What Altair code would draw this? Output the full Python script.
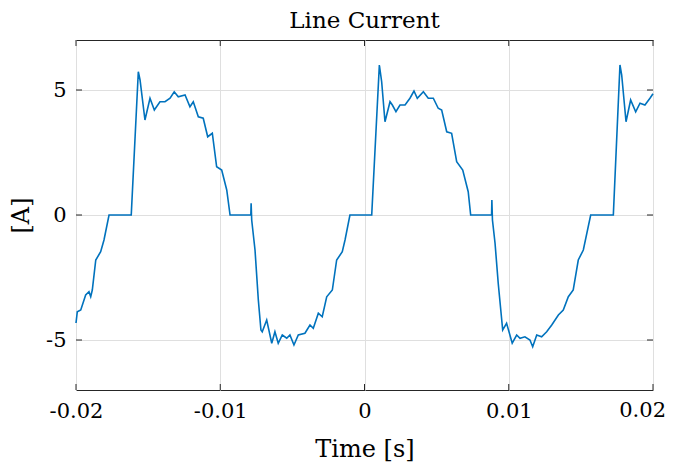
import altair as alt
import pandas as pd

# Time (ms) and line current (A)
time_ms = [
    -20.00, -19.91, -19.67, -19.33, -19.10, -18.98, -18.87, -18.63, -18.29, -18.06, -17.71, -16.17,
    -15.68, -15.56, -15.22, -14.87, -14.57, -14.18, -13.83, -13.48, -13.19, -12.91, -12.44, -12.10,
    -11.87, -11.52, -11.18, -10.87, -10.55, -10.25, -9.90, -9.55, -9.32, -7.88, -7.86, -7.82,
    -7.59, -7.36, -7.18, -7.09, -6.78, -6.43, -6.21, -5.98, -5.70, -5.39, -5.17, -4.89, -4.59,
    -4.13, -3.78, -3.55, -3.20, -2.93, -2.62, -2.23, -1.93, -1.54, -1.35, -1.01, 0.50,
    1.03, 1.19, 1.42, 1.77, 1.93, 2.18, 2.46, 2.81, 3.15, 3.43, 3.66, 4.08, 4.42, 4.77, 5.11,
    5.35, 5.70, 6.04, 6.39, 6.81, 7.19, 7.36, 8.81, 8.83, 8.87,
    9.05, 9.27, 9.58, 9.85, 10.24, 10.55, 10.78, 11.12, 11.47, 11.66, 11.94, 12.28, 12.63, 12.98,
    13.44, 13.78, 14.13, 14.47, 14.82, 15.17, 15.68, 17.25,
    17.71, 17.83, 18.13, 18.45, 18.80, 19.10, 19.44, 19.79, 20.00,
]
current_a = [
    -4.32, -3.87, -3.80, -3.20, -3.07, -3.27, -3.00, -1.80, -1.47, -1.00, 0.00, 0.00,
    5.73, 5.40, 3.80, 4.67, 4.20, 4.53, 4.53, 4.67, 4.93, 4.73, 4.80, 4.33,
    4.53, 3.93, 3.87, 3.13, 3.27, 1.93, 1.80, 1.00, 0.00, 0.00, 0.47, -0.20,
    -1.40, -3.40, -4.60, -4.67, -4.20, -5.13, -4.67, -5.13, -4.80, -4.93, -4.80, -5.20, -4.80,
    -4.73, -4.40, -4.53, -3.93, -4.07, -3.27, -3.00, -1.80, -1.47, -1.00, 0.00, 0.00,
    6.00, 5.33, 3.73, 4.53, 4.40, 4.13, 4.40, 4.40, 4.67, 4.96, 4.67, 4.93, 4.67, 4.67, 4.27,
    4.20, 3.33, 3.27, 2.13, 1.80, 0.93, 0.00, 0.00, 0.60, -0.20,
    -1.13, -2.73, -4.60, -4.33, -5.13, -4.80, -4.93, -4.87, -5.00, -5.27, -4.80, -4.87, -4.67, -4.40,
    -4.00, -3.80, -3.27, -3.00, -1.80, -1.40, 0.00, 0.00,
    6.00, 5.60, 3.73, 4.60, 4.13, 4.47, 4.40, 4.67, 4.85,
]

x_ticks = [-0.02, -0.01, 0.0, 0.01, 0.02]
y_ticks = [-5, 0, 5]
last_x_label = ["0.02"]

W, H = 577, 350
FONT = "DejaVu Serif"
DARK = "#262626"

df = pd.DataFrame({"t": [v / 1000 for v in time_ms], "i": current_a})
xt = pd.DataFrame({"t": x_ticks})
yt = pd.DataFrame({"i": y_ticks})
lastlab = pd.DataFrame({"t": [x_ticks[-1]], "label": last_x_label})

x_scale = alt.Scale(domain=[-0.02, 0.02], nice=False, zero=False)
y_scale = alt.Scale(domain=[-7, 7], nice=False, zero=False)

x_axis = alt.Axis(
    values=x_ticks, title="Time [s]", grid=True, ticks=False, domain=False,
    labelExpr="datum.value >= 0.0199 ? '' : (datum.value == 0 ? '0' : (datum.value < 0 ? '-' + format(-datum.value, '.2f') : format(datum.value, '.2f')))",
    labelPadding=10, titlePadding=16, labelFontSize=21, titleFontSize=24,
    labelFlush=False, labelFont=FONT, titleFont=FONT, titleFontWeight="normal",
    labelColor="#000000", titleColor="#000000", gridColor="#dfdfdf",
)
y_axis = alt.Axis(
    values=y_ticks, title="[A]", grid=True, ticks=False, domain=False,
    labelExpr="datum.value < 0 ? '-' + format(-datum.value, 'd') : format(datum.value, 'd')",
    labelPadding=10, titlePadding=12, labelFontSize=21, titleFontSize=24,
    labelFont=FONT, titleFont=FONT, titleFontWeight="normal",
    labelColor="#000000", titleColor="#000000", gridColor="#dfdfdf",
)

line = alt.Chart(df).mark_line(color="#0072BD", strokeWidth=1.6).encode(
    x=alt.X("t:Q", scale=x_scale, axis=x_axis),
    y=alt.Y("i:Q", scale=y_scale, axis=y_axis),
)

# last tick label, kept inside the page's right edge
last_label = alt.Chart(lastlab).mark_text(
    font=FONT, fontSize=21, color="#000000", align="right", baseline="top", dx=13
).encode(x=alt.X("t:Q", scale=x_scale), y=alt.value(H + 10), text="label:N")

bottom_ticks = alt.Chart(xt).mark_rule(color=DARK, strokeWidth=1).encode(
    x=alt.X("t:Q", scale=x_scale), y=alt.value(H), y2=alt.value(H - 6)
)
top_ticks = alt.Chart(xt).mark_rule(color=DARK, strokeWidth=1).encode(
    x=alt.X("t:Q", scale=x_scale), y=alt.value(0), y2=alt.value(6)
)
left_ticks = alt.Chart(yt).mark_rule(color=DARK, strokeWidth=1).encode(
    y=alt.Y("i:Q", scale=y_scale), x=alt.value(0), x2=alt.value(6)
)
right_ticks = alt.Chart(yt).mark_rule(color=DARK, strokeWidth=1).encode(
    y=alt.Y("i:Q", scale=y_scale), x=alt.value(W), x2=alt.value(W - 6)
)

chart = (
    alt.layer(line, bottom_ticks, top_ticks, left_ticks, right_ticks, last_label)
    .properties(
        width=W, height=H,
        title=alt.TitleParams("Line Current", fontSize=23, font=FONT, fontWeight="normal",
                              color="#000000", offset=7),
        autosize=alt.AutoSizeParams(type="none"),
        padding={"left": 68, "top": 32, "right": 13, "bottom": 72},
        background="white",
    )
    .configure_view(stroke=DARK, strokeWidth=1)
)

chart.save("out.html", embed_options={"renderer": "svg", "actions": False})
